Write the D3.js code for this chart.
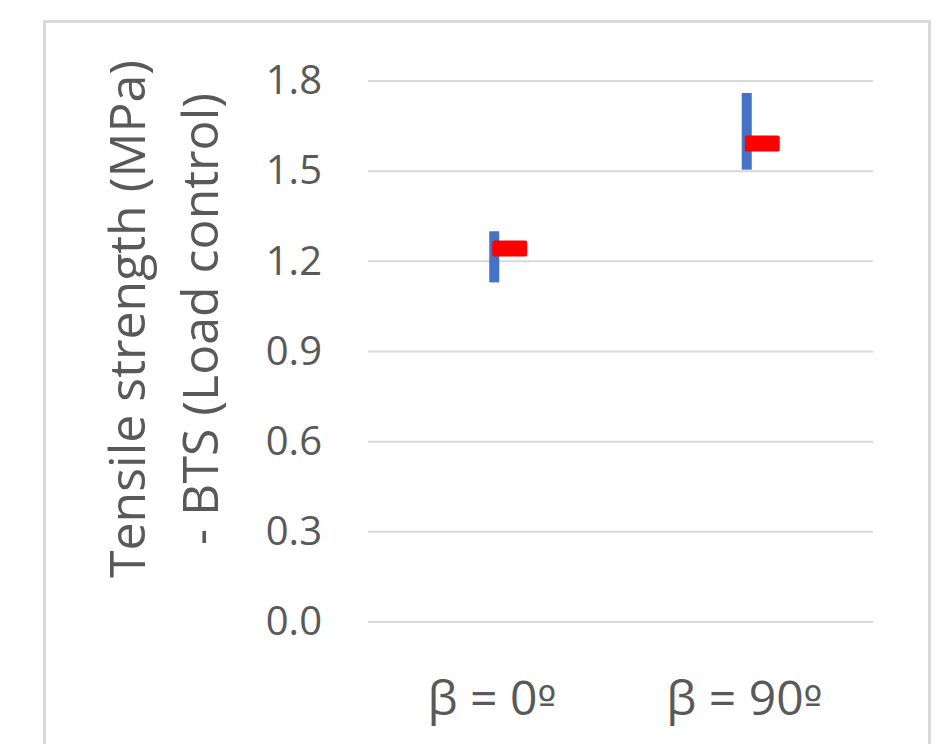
<!DOCTYPE html>
<html><head><meta charset="utf-8">
<script src="https://cdn.jsdelivr.net/npm/d3@7"></script>
<style>body{margin:0;background:#fff}svg{display:block}</style>
</head><body>
<script>
const categories = ["β = 0º", "β = 90º"];
const highValues = [1.30, 1.76];
const lowValues = [1.13, 1.505];
const markValues = [1.243, 1.592];
const yTicks = [0.0, 0.3, 0.6, 0.9, 1.2, 1.5, 1.8];
const yTitle = ["Tensile strength (MPa)", "- BTS (Load control)"];

(function () {
const W = 944, H = 744;
const svg = d3.select("body").append("svg").attr("width", W).attr("height", H);
svg.append("rect").attr("width", W).attr("height", H).attr("fill", "#fff");
svg.append("rect").attr("x", 44.5).attr("y", 21.5).attr("width", 885).attr("height", 760)
  .attr("fill", "#fff").attr("stroke", "#d9d9d9").attr("stroke-width", 3);

const mLeft = 368, mRight = 873, mTop = 81, mBottom = 622;
const y = d3.scaleLinear().domain([0, 1.8]).range([mBottom, mTop]);
const x = d3.scaleBand().domain(categories).range([mLeft, mRight]);

const font = "'Open Sans', 'Noto Sans', sans-serif";
const gray = "#595959";

const yAxis = d3.axisLeft(y).tickValues(yTicks).tickFormat(d3.format(".1f")).tickSize(0).tickPadding(46);
const gy = svg.append("g").attr("transform", `translate(${mLeft},0)`).call(yAxis);
gy.select(".domain").remove();
gy.selectAll("text").attr("font-family", font).attr("font-size", 40).attr("fill", gray);

svg.append("g").selectAll("line").data(yTicks).join("line")
  .attr("x1", mLeft).attr("x2", mRight).attr("y1", d => y(d)).attr("y2", d => y(d))
  .attr("stroke", "#d9d9d9").attr("stroke-width", 2);

const xAxis = d3.axisBottom(x).tickSize(0).tickPadding(0);
const gx = svg.append("g").attr("transform", `translate(0,${mBottom})`).call(xAxis);
gx.select(".domain").remove();
gx.selectAll("text").attr("font-family", font).attr("font-size", 48).attr("fill", gray)
  .attr("dy", null).attr("y", 93).attr("dx", "-0.05em")
  .each(function (d) {
    const el = d3.select(this);
    el.text(null);
    const parts = d.split("º");
    el.append("tspan").text(parts[0]);
    el.append("tspan").attr("font-family", "'DejaVu Sans', sans-serif").attr("font-size", 40).text("º");
  });

const cx = i => x(categories[i]) + x.bandwidth() / 2;
const idx = d3.range(categories.length);

svg.append("g").selectAll("rect").data(idx).join("rect")
  .attr("x", i => cx(i) - 5).attr("width", 10)
  .attr("y", i => y(highValues[i])).attr("height", i => y(lowValues[i]) - y(highValues[i]))
  .attr("fill", "#4472c4");

svg.append("g").selectAll("rect").data(idx).join("rect")
  .attr("x", i => cx(i) - 2).attr("width", 35)
  .attr("y", i => y(markValues[i]) - 8).attr("height", 16).attr("rx", 2)
  .attr("fill", "#ff0000");

const baselines = [145, 218];
svg.append("g").selectAll("text").data(yTitle).join("text")
  .attr("transform", (d, i) => `translate(${baselines[i]},319) rotate(-90)`)
  .attr("text-anchor", "middle").attr("font-family", font).attr("font-size", 50).attr("fill", gray)
  .text(d => d);
})();
</script>
</body></html>
